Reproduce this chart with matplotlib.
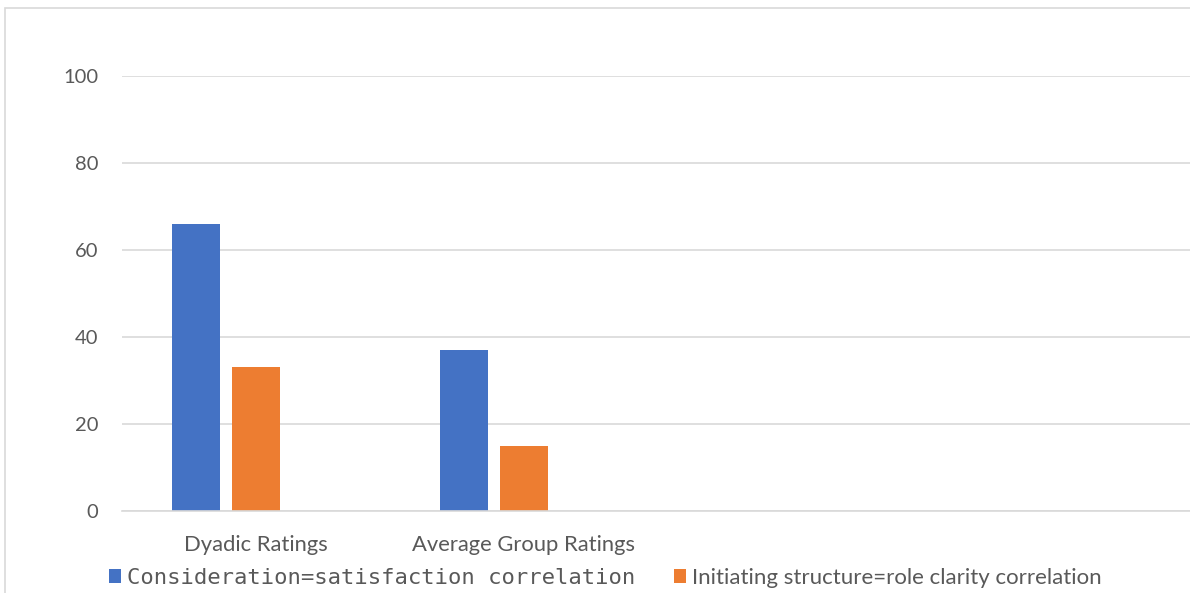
import numpy as np
import matplotlib.pyplot as plt
from matplotlib.patches import Rectangle

# data
categories = ['Dyadic Ratings', 'Average Group Ratings', '', '']
consideration = [66, 37, np.nan, np.nan]
initiating = [33, 15, np.nan, np.nan]
series_names = ['Consideration=satisfaction correlation',
                'Initiating structure=role clarity correlation']

blue = '#4472c4'
orange = '#ed7d31'
grey = '#595959'
grid = '#d9d9d9'

fig = plt.figure(figsize=(11.9, 5.93), dpi=100)
ax = fig.add_axes([122 / 1190, 1 - 511 / 593, 1072 / 1190, (511 - 76) / 593])

x = np.arange(len(categories))
w = 48 / 268
step = 60 / 268
b1 = ax.bar(x - step, consideration, w, color=blue, label=series_names[0])
b2 = ax.bar(x, initiating, w, color=orange, label=series_names[1])

ax.set_xlim(-0.5, len(categories) - 0.5)
ax.set_ylim(0, 100)
ax.set_yticks([0, 20, 40, 60, 80, 100])
ax.set_xticks(x)
ax.set_xticklabels(categories)
ax.yaxis.grid(True, color=grid, linewidth=1.2)
ax.set_axisbelow(True)
for s in ['top', 'right', 'left']:
    ax.spines[s].set_visible(False)
ax.spines['bottom'].set_color(grid)
ax.spines['bottom'].set_linewidth(1.2)
ax.tick_params(length=0, labelcolor=grey)
ax.tick_params(axis='y', pad=17, labelsize=14.5)
ax.tick_params(axis='x', pad=17, labelsize=15.8)
for t in ax.get_xticklabels() + ax.get_yticklabels():
    t.set_fontfamily(['Lato', 'DejaVu Sans'])

leg = fig.legend(handles=[b1, b2], loc='center left', ncol=2,
                 bbox_to_anchor=(89 / 1190, 1 - 578 / 593),
                 frameon=False, handlelength=0.55, handleheight=0.55,
                 handletextpad=0.27, columnspacing=1.72, fontsize=16)
txts = leg.get_texts()
txts[0].set_fontfamily('DejaVu Sans Mono')
txts[1].set_fontfamily(['Lato', 'DejaVu Sans'])
for t in txts:
    t.set_color(grey)

# chart border
fig.patches.append(Rectangle((5 / 1190, -0.1), 1.2, 1.1 - 8 / 593,
                             transform=fig.transFigure, fill=False,
                             edgecolor=grid, linewidth=1.2))

fig.savefig('out.png', dpi=100)
